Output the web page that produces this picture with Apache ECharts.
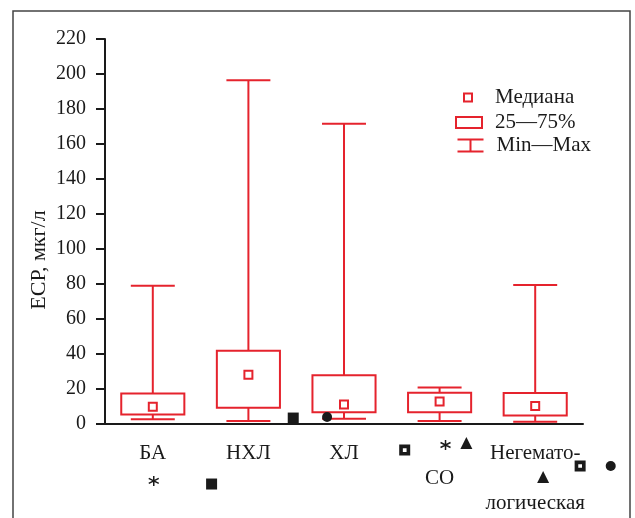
<!DOCTYPE html>
<html>
<head>
<meta charset="utf-8">
<script src="https://cdn.jsdelivr.net/npm/echarts@6/dist/echarts.min.js"></script>
<style>
  html, body { margin: 0; padding: 0; background: #fff; }
  #main { width: 635px; height: 518px; }
</style>
</head>
<body>
<div id="main"></div>
<script>
  // категории и значения (ЕСР, мкг/л)
  const categories = ['БА', 'НХЛ', 'ХЛ', 'СО', 'Негемато-логическая'];
  const tickLabels = ['БА', 'НХЛ', 'ХЛ', '\nСО', 'Негемато-\n\nлогическая'];
  const minVals = [2.7, 1.7, 3.0, 1.7, 1.3];
  const q1Vals = [5.5, 9.3, 6.7, 6.7, 4.8];
  const medianVals = [9.9, 28.2, 11.2, 12.8, 10.3];
  const q3Vals = [17.5, 41.9, 27.8, 17.9, 17.7];
  const maxVals = [79.0, 196.5, 171.6, 20.8, 79.4];
  const yTicks = [0, 20, 40, 60, 80, 100, 120, 140, 160, 180, 200, 220];

  // значки достоверности под осью: [x (индекс категории), y, тип]
  const markX = [0.01, 0.615, 1.469, 1.823, 2.635, 3.062, 3.28, 4.083, 4.47, 4.79];
  const markY = [-32.5, -34.3, 3.4, 4.0, -14.9, -12, -10.9, -30.3, -24, -24];
  const markType = ['star', 'square', 'square', 'circle', 'dotSquare', 'star', 'triangle', 'triangle', 'dotSquare', 'circle'];

  const RED = '#e5232d';
  const INK = '#1a1a1a';
  const FONT = "'Liberation Serif', 'DejaVu Serif', serif";

  const symbols = {
    star: 'path://M5,0V10M0.7,2.5L9.3,7.5M0.7,7.5L9.3,2.5',
    square: 'rect',
    circle: 'circle',
    triangle: 'triangle',
    dotSquare: 'path://M0,0H10V10H0Z M3.3,3.3V6.7H6.7V3.3Z'
  };
  const symbolSize = { star: 10, square: 11, circle: 10, triangle: 12, dotSquare: 11 };

  const boxData = categories.map((c, i) => [i, q1Vals[i], q3Vals[i]]);
  const whiskerData = categories.map((c, i) => [i, minVals[i], q1Vals[i], q3Vals[i], maxVals[i]]);
  const medianData = categories.map((c, i) => [i, medianVals[i]]);
  const markData = markX.map((x, i) => ({
    value: [x, markY[i]],
    symbol: symbols[markType[i]],
    symbolSize: symbolSize[markType[i]],
    itemStyle: markType[i] === 'star'
      ? { color: INK, borderColor: INK, borderWidth: 1.5, opacity: 1 }
      : { color: INK, opacity: 1 }
  }));

  let myChart = echarts.init(document.getElementById('main'));

  let option = {
    animation: false,
    backgroundColor: '#fff',
    textStyle: { fontFamily: FONT },
    grid: { left: 105, right: 52, top: 39, bottom: 94 },
    legend: [
      {
        left: 463, top: 87, padding: 0,
        itemWidth: 8, itemHeight: 8,
        textStyle: { fontFamily: FONT, fontSize: 21, color: INK, padding: [0, 0, 0, 18] },
        data: [{ name: 'Медиана', icon: 'rect', itemStyle: { color: '#fff', borderColor: RED, borderWidth: 2, opacity: 1 } }]
      },
      {
        left: 455, top: 112, padding: 0,
        itemWidth: 26, itemHeight: 11,
        textStyle: { fontFamily: FONT, fontSize: 21, color: INK, padding: [0, 0, 0, 8] },
        data: [{ name: '25—75%', icon: 'rect', itemStyle: { color: '#fff', borderColor: RED, borderWidth: 2 } }]
      },
      {
        left: 455, top: 135, padding: 0,
        itemWidth: 26, itemHeight: 12,
        textStyle: { fontFamily: FONT, fontSize: 21, color: INK, padding: [0, 0, 0, 8] },
        data: [{ name: 'Min—Max', icon: 'path://M0,0H26M13,0V12M0,12H26', itemStyle: { color: 'none', borderColor: RED, borderWidth: 2 } }]
      }
    ],
    xAxis: [
      {
        type: 'category',
        data: categories,
        boundaryGap: true,
        axisLine: { lineStyle: { color: INK, width: 2 } },
        axisTick: { alignWithLabel: true, length: 9, lineStyle: { color: INK, width: 2 } },
        axisLabel: {
          interval: 0,
          color: INK, fontSize: 21, fontFamily: FONT, lineHeight: 25, margin: 17,
          formatter: (v, i) => tickLabels[i]
        },
        splitLine: { show: false }
      },
      {
        type: 'value', min: -0.5, max: 4.5, show: false
      }
    ],
    yAxis: {
      type: 'value',
      min: 0, max: 220, interval: 20,
      axisLine: { show: true, onZero: false, lineStyle: { color: INK, width: 2 } },
      axisTick: { show: true, length: 9, lineStyle: { color: INK, width: 2 } },
      axisLabel: {
        color: INK, fontSize: 20, fontFamily: FONT, margin: 19,
        formatter: v => (yTicks.indexOf(v) >= 0 ? String(v) : '')
      },
      splitLine: { show: false }
    },
    graphic: [
      {
        type: 'rect', silent: true, z: -1,
        shape: { x: 13, y: 11, width: 617, height: 540 },
        style: { fill: 'none', stroke: '#444', lineWidth: 1.5 }
      },
      {
        type: 'text', x: 39, y: 260, rotation: Math.PI / 2,
        style: {
          text: 'ЕСР, мкг/л', fontSize: 22, fontFamily: FONT, fill: INK,
          align: 'center', verticalAlign: 'middle'
        }
      }
    ],
    series: [
      {
        name: 'Min—Max',
        type: 'custom',
        itemStyle: { color: RED },
        encode: { x: 0, y: [1, 2, 3, 4] },
        data: whiskerData,
        renderItem: function (params, api) {
          let x = api.coord([api.value(0), 0])[0];
          let band = api.size([1, 0])[0];
          let cap = band * 0.46 / 2;
          let pMin = api.coord([api.value(0), api.value(1)])[1];
          let pQ1 = api.coord([api.value(0), api.value(2)])[1];
          let pQ3 = api.coord([api.value(0), api.value(3)])[1];
          let pMax = api.coord([api.value(0), api.value(4)])[1];
          let st = { stroke: RED, lineWidth: 2, fill: 'none' };
          return {
            type: 'group',
            children: [
              { type: 'line', shape: { x1: x, y1: pQ3, x2: x, y2: pMax }, style: st },
              { type: 'line', shape: { x1: x - cap, y1: pMax, x2: x + cap, y2: pMax }, style: st },
              { type: 'line', shape: { x1: x, y1: pQ1, x2: x, y2: pMin }, style: st },
              { type: 'line', shape: { x1: x - cap, y1: pMin, x2: x + cap, y2: pMin }, style: st }
            ]
          };
        }
      },
      {
        name: '25—75%',
        type: 'custom',
        itemStyle: { color: RED },
        encode: { x: 0, y: [1, 2] },
        data: boxData,
        renderItem: function (params, api) {
          let x = api.coord([api.value(0), 0])[0];
          let band = api.size([1, 0])[0];
          let half = band * 0.66 / 2;
          let pQ1 = api.coord([api.value(0), api.value(1)])[1];
          let pQ3 = api.coord([api.value(0), api.value(2)])[1];
          return {
            type: 'rect',
            shape: { x: x - half, y: pQ3, width: half * 2, height: pQ1 - pQ3 },
            style: { stroke: RED, lineWidth: 2, fill: '#fff' }
          };
        }
      },
      {
        name: 'Медиана',
        type: 'scatter',
        symbol: 'rect',
        symbolSize: 8,
        z: 5,
        itemStyle: { color: '#fff', borderColor: RED, borderWidth: 2, opacity: 1 },
        data: medianData
      },
      {
        name: 'marks',
        type: 'scatter',
        xAxisIndex: 1,
        clip: false,
        silent: true,
        z: 6,
        itemStyle: { opacity: 1 },
        data: markData
      }
    ]
  };
  myChart.setOption(option);
</script>
</body>
</html>
